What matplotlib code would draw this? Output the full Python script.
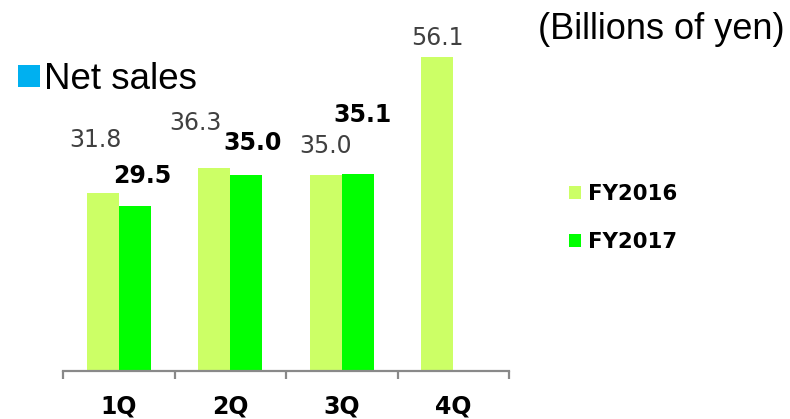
import matplotlib
matplotlib.use("Agg")
import matplotlib.pyplot as plt
from matplotlib.patches import Patch, Rectangle
import numpy as np

# Quarterly net sales (billions of yen)
quarters = ["1Q", "2Q", "3Q", "4Q"]
fy2016 = [31.8, 36.3, 35.0, 56.1]
fy2017 = [29.5, 35.0, 35.1]
series_names = ["FY2016", "FY2017"]

C16 = "#CCFF66"
C17 = "#00FF00"
AXIS = "#898989"

W, H = 790, 419
fig = plt.figure(figsize=(W / 100, H / 100), dpi=100)
ax = fig.add_axes([63 / W, 1 - 371 / H, (509 - 63) / W, (371 - 35) / H])

x = np.arange(len(quarters))
bw = 0.287
ax.bar(x - bw / 2, fy2016, width=bw, color=C16, linewidth=0)
ax.bar(x[:len(fy2017)] + bw / 2, fy2017, width=bw, color=C17, linewidth=0)

ax.set_xlim(-0.5, len(quarters) - 0.5)
ax.set_ylim(0, 60)

for s in ("left", "top", "right"):
    ax.spines[s].set_visible(False)
ax.spines["bottom"].set_color(AXIS)
ax.spines["bottom"].set_linewidth(1.6)
ax.set_yticks([])

ax.set_xticks(np.arange(len(quarters) + 1) - 0.5)
ax.set_xticklabels([])
ax.set_xticks(x, minor=True)
ax.set_xticklabels(quarters, minor=True, fontsize=17, fontweight="bold",
                   family="DejaVu Sans")
ax.tick_params(axis="x", which="major", length=6, width=1.6, color=AXIS,
               direction="out")
ax.tick_params(axis="x", which="minor", length=0, pad=17)

# value labels, offsets in pixels (dx, dy to baseline)
off16 = [(-7, 46), (-19, 38), (0, 22), (0, 12)]
off17 = [(7, 23), (6, 25), (5, 52)]
k = 0.72
for i, v in enumerate(fy2016):
    dx, dy = off16[i]
    ax.annotate(f"{v:.1f}", xy=(x[i] - bw / 2, v), xytext=(dx * k, dy * k),
                textcoords="offset points", ha="center", va="baseline",
                fontsize=17, color="#404040", family="DejaVu Sans",
                annotation_clip=False)
for i, v in enumerate(fy2017):
    dx, dy = off17[i]
    ax.annotate(f"{v:.1f}", xy=(x[i] + bw / 2, v), xytext=(dx * k, dy * k),
                textcoords="offset points", ha="center", va="baseline",
                fontsize=17, fontweight="bold", color="black",
                family="DejaVu Sans", annotation_clip=False)

# legend
handles = [Patch(facecolor=C16, edgecolor="none"),
           Patch(facecolor=C17, edgecolor="none")]
leg = fig.legend(handles, series_names, loc="upper left",
                 bbox_to_anchor=(569 / W, 1 - 184 / H), frameon=False,
                 handlelength=0.55, handleheight=0.55, handletextpad=0.35,
                 labelspacing=1.3, borderpad=0, borderaxespad=0,
                 prop={"family": "DejaVu Sans", "weight": "bold", "size": 15.3})

# title block
fig.patches.append(Rectangle((18 / W, 1 - 87 / H), 22 / W, 22 / H,
                             transform=fig.transFigure, facecolor="#00B0F0",
                             edgecolor="none"))
fig.text(44 / W, 1 - 89 / H, "Net sales", fontsize=26.5,
         family="Liberation Sans", va="baseline", ha="left")
fig.text(785 / W, 1 - 39 / H, "(Billions of yen)", fontsize=26,
         family="Liberation Sans", va="baseline", ha="right")

fig.savefig("out.png", dpi=100)
